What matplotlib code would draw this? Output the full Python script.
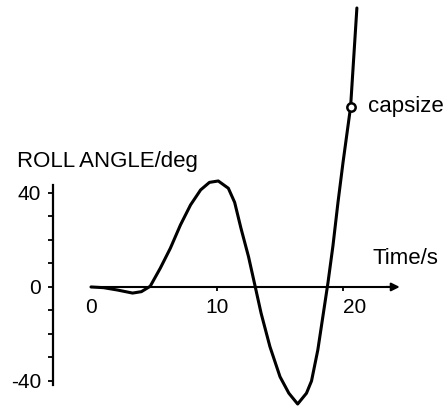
import matplotlib
matplotlib.use("Agg")
import matplotlib.pyplot as plt
import matplotlib.transforms as mtransforms

# roll angle of the vessel
time_s = [0.0, 1.0, 2.1, 3.3, 4.0, 4.7, 5.5, 6.3, 7.1, 7.9, 8.7, 9.4, 10.1,
          10.9, 11.4, 11.9, 12.5, 13.0, 13.5, 14.2, 15.0, 15.7, 16.4, 17.1,
          17.5, 18.0, 18.4, 18.8, 19.2, 19.6, 20.0, 20.6, 21.1]
roll_deg = [0.0, -0.3, -1.3, -2.6, -2.0, 0.3, 8.0, 16.5, 26.4, 34.9, 41.3,
            44.5, 45.1, 42.0, 36.0, 25.0, 12.9, 0.9, -11.2, -25.4, -38.2,
            -45.2, -49.8, -45.2, -40.0, -26.8, -12.6, 1.6, 17.5, 36.0, 53.0,
            76.6, 118.7]

capsize_t = 20.6
capsize_roll = 76.6

x_ticks = [0, 10, 20]
x_tick_labels = ["0", "10", "20"]
y_ticks = [-40, 0, 40]
y_tick_labels = ["-40", "0", "40"]
y_minor = [-30, -20, -10, 10, 20, 30]

plt.rcParams["font.family"] = ["Liberation Sans", "DejaVu Sans"]

fig = plt.figure(figsize=(4.48, 4.08), dpi=100)
ax = fig.add_axes([0, 0, 1, 1])
ax.set_xlim(-7.22, 28.33)
ax.set_ylim(-51.5, 122.1)

ax.plot(time_s, roll_deg, color="black", lw=2.2, solid_capstyle="round",
        solid_joinstyle="round", zorder=3)
ax.plot([capsize_t], [capsize_roll], "o", ms=6, mfc="white", mec="black",
        mew=1.8, zorder=4)

# spines
for s in ["top", "right"]:
    ax.spines[s].set_visible(False)
ax.spines["left"].set_position(("data", -3.0))
ax.spines["left"].set_bounds(-41.7, 43.4)
ax.spines["left"].set_linewidth(1.6)
ax.spines["bottom"].set_position(("data", 0))
ax.spines["bottom"].set_bounds(0.1, 23.6)
ax.spines["bottom"].set_linewidth(1.5)
ax.annotate("", xy=(24.5, 0), xytext=(23.4, 0),
            arrowprops=dict(arrowstyle="-|>", color="black", lw=1.5,
                            mutation_scale=12, shrinkA=0, shrinkB=0))

ax.set_xticks(x_ticks)
ax.set_xticklabels(x_tick_labels)
ax.set_yticks(y_ticks)
ax.set_yticklabels(y_tick_labels)
ax.set_yticks(y_minor, minor=True)
ax.tick_params(axis="x", direction="out", length=3, width=1.3, pad=5,
               labelsize=15)
ax.tick_params(axis="y", which="both", direction="out", length=3.5, width=1.3,
               pad=5, labelsize=15)
ax.xaxis.get_major_ticks()[0].tick1line.set_visible(False)

# the "20" label sits a bit to the right of its tick
lab20 = ax.get_xticklabels()[2]
lab20.set_transform(lab20.get_transform() +
                    mtransforms.ScaledTranslation(8 / 72, 0, fig.dpi_scale_trans))

ax.text(-5.87, 53.2, "ROLL ANGLE/deg", fontsize=16, va="center", ha="left")
ax.text(22.3, 12.3, "Time/s", fontsize=16, va="center", ha="left")
ax.text(22.0, capsize_roll, "capsize", fontsize=16, va="center", ha="left")

fig.savefig("out.png", dpi=100)
plt.close(fig)
